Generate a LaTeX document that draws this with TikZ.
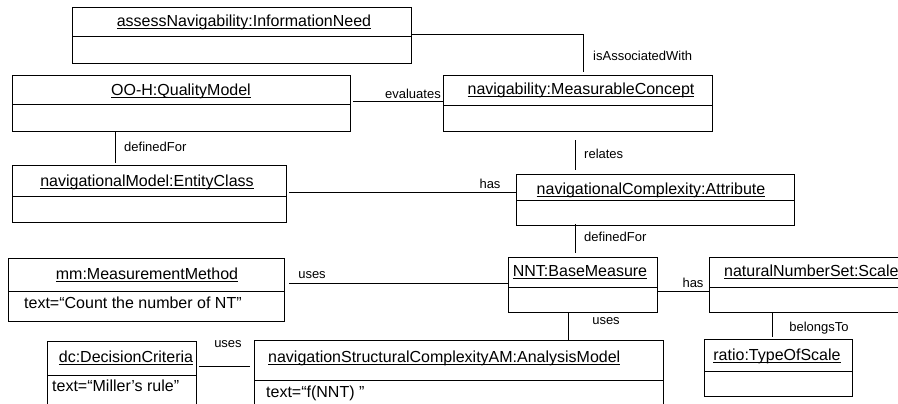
\documentclass[tikz,border=0pt]{standalone}
\usepackage{fontspec}
\setmainfont{Liberation Sans}
\newcommand{\objname}[1]{\setbox0=\hbox{#1}\rlap{\rule[-3pt]{\wd0}{1.5pt}}\box0}
\tikzset{
  obj/.style={draw, line width=1pt, anchor=north west, inner sep=0pt},
  objtitle/.style={font=\fontsize{16}{19}\selectfont, inner sep=0pt},
  objattr/.style={font=\fontsize{16}{19}\selectfont, inner sep=0pt, anchor=west},
  role/.style={font=\fontsize{13}{15}\selectfont, inner sep=0pt},
  link/.style={line width=1pt},
}
\begin{document}
\begin{tikzpicture}[x=1pt,y=-1pt]
    \useasboundingbox (0,0) rectangle (898,404);
    % objects
    \node[obj, minimum width=339pt, minimum height=56pt] (need) at (72,7) {};
    \node[objtitle] (needname) at (244,22) {\objname{assessNavigability:InformationNeed}};
    \draw[link] (need.west |- 0,37) -- (need.east |- 0,37);

    \node[obj, minimum width=338pt, minimum height=56pt] (quality) at (12,75) {};
    \node[objtitle] (qualityname) at (181,91) {\objname{OO-H:QualityModel}};
    \draw[link] (quality.west |- 0,105) -- (quality.east |- 0,105);

    \node[obj, minimum width=269pt, minimum height=56pt] (concept) at (443,75) {};
    \node[objtitle] (conceptname) at (581,90) {\objname{navigability:MeasurableConcept}};
    \draw[link] (concept.west |- 0,106) -- (concept.east |- 0,106);

    \node[obj, minimum width=274pt, minimum height=57pt] (entity) at (12,165) {};
    \node[objtitle] (entityname) at (147,182) {\objname{navigationalModel:EntityClass}};
    \draw[link] (entity.west |- 0,196) -- (entity.east |- 0,196);

    \node[obj, minimum width=278pt, minimum height=51pt] (attribute) at (516,174) {};
    \node[objtitle] (attributename) at (651,190) {\objname{navigationalComplexity:Attribute}};
    \draw[link] (attribute.west |- 0,200) -- (attribute.east |- 0,200);

    \node[obj, minimum width=276pt, minimum height=63pt] (mm) at (8,258) {};
    \node[objtitle] (mmname) at (147,275) {\objname{mm:MeasurementMethod}};
    \draw[link] (mm.west |- 0,291) -- (mm.east |- 0,291);
    \node[objattr] (mmtext) at (24,303) {text=“Count the number of NT”};

    \node[obj, minimum width=149pt, minimum height=55pt] (base) at (508,257) {};
    \node[objtitle] (basename) at (580,272) {\objname{NNT:BaseMeasure}};
    \draw[link] (base.west |- 0,287) -- (base.east |- 0,287);

    \node[obj, minimum width=221pt, minimum height=55pt] (scale) at (709,257) {};
    \node[objtitle, anchor=west] (scalename) at (724,272) {\objname{naturalNumberSet:Scale}};
    \draw[link] (scale.west |- 0,287) -- (scale.east |- 0,287);

    \node[obj, minimum width=148pt, minimum height=57pt] (ratio) at (704,339) {};
    \node[objtitle] (rationame) at (777,356) {\objname{ratio:TypeOfScale}};
    \draw[link] (ratio.west |- 0,371) -- (ratio.east |- 0,371);

    \node[obj, minimum width=409pt, minimum height=80pt] (am) at (254,340) {};
    \node[objtitle, anchor=west] (amname) at (268,358) {\objname{navigationStructuralComplexityAM:AnalysisModel}};
    \draw[link] (am.west |- 0,380) -- (am.east |- 0,380);
    \node[objattr] (amtext) at (266,393) {text=“f(NNT) ”};

    \node[obj, minimum width=149pt, minimum height=79pt] (dc) at (47,341) {};
    \node[objtitle] (dcname) at (126,358) {\objname{dc:DecisionCriteria}};
    \draw[link] (dc.west |- 0,375) -- (dc.east |- 0,375);
    \node[objattr] (dctext) at (52,386) {text=“Miller’s rule”};

    % links
    \draw[link, shorten >=3pt] (need.east |- 0,35) -| (concept.north -| 583,0);
    \draw[link, shorten <=2pt] (quality.east |- 0,102) -- (concept.west |- 0,102);
    \draw[link, shorten >=2pt] (quality.south -| 115,0) -- (entity.north -| 115,0);
    \draw[link, shorten <=2pt] (entity.east |- 0,192) -- (attribute.west |- 0,192);
    \draw[link, shorten <=8pt, shorten >=4pt] (concept.south -| 575,0) -- (attribute.north -| 575,0);
    \draw[link, shorten <=-2pt, shorten >=4pt] (attribute.south -| 575,0) -- (base.north -| 575,0);
    \draw[link, shorten <=4pt] (mm.east |- 0,283) -- (base.west |- 0,283);
    \draw[link] (base.east |- 0,291) -- (scale.west |- 0,291);
    \draw[link] (base.south -| 568,0) -- (am.north -| 568,0);
    \draw[link, shorten >=2pt] (scale.south -| 772,0) -- (ratio.north -| 772,0);
    \draw[link, shorten <=2pt, shorten >=4pt] (dc.east |- 0,366) -- (am.west |- 0,366);

    % roles
    \node[role, anchor=west] (assoclabel) at (593,56) {isAssociatedWith};
    \node[role, anchor=east] (evallabel) at (441,94) {evaluates};
    \node[role, anchor=west] (defforlabel) at (124,147) {definedFor};
    \node[role, anchor=west] (relateslabel) at (584,154) {relates};
    \node[role] (haslabel) at (490,184) {has};
    \node[role, anchor=west] (defforlabelb) at (584,237) {definedFor};
    \node[role] (useslabel) at (312,275) {uses};
    \node[role] (hasscalelabel) at (693,283) {has};
    \node[role] (usesamlabel) at (606,321) {uses};
    \node[role] (belongslabel) at (819,328) {belongsTo};
    \node[role] (usesdclabel) at (228,344) {uses};
\end{tikzpicture}
\end{document}
